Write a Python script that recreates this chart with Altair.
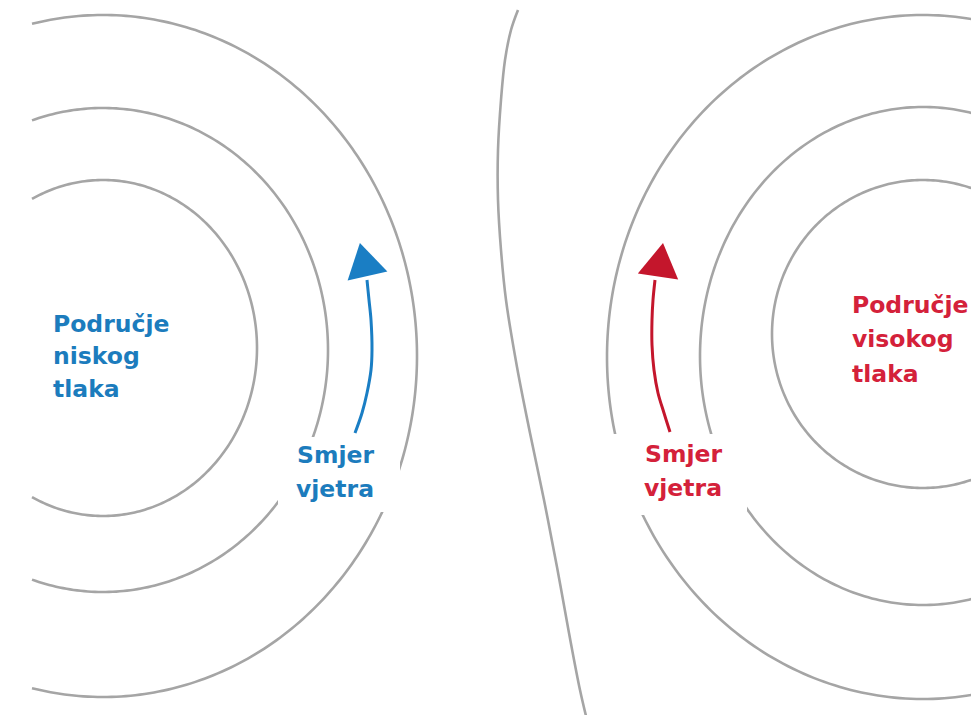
import numpy as np
import pandas as pd
import altair as alt

# ---- values (pixel coordinates of the 979x723 image) ----
# left (low-pressure) isobars: centre and radii of each ellipse arc
LEFT_CX = [103, 103, 103]
LEFT_CY = [348, 350, 356]
LEFT_A = [154, 225, 314]
LEFT_B = [168, 242, 341]
LEFT_EDGE = 32

# right (high-pressure) isobars
RIGHT_CX = [923, 923, 923]
RIGHT_CY = [334, 356, 357]
RIGHT_A = [151, 223, 316]
RIGHT_B = [154, 249, 342]

# dividing curve between the two systems
MID_X = [518, 511, 505, 501, 498, 498, 501, 506, 517, 530, 544, 557, 569, 580, 587]
MID_Y = [10, 30, 60, 100, 150, 200, 250, 300, 367, 433, 500, 567, 633, 690, 720]

# wind-direction arrows (shafts)
BLUE_SHAFT_X = [355, 362, 367, 371, 372, 371, 369, 367]
BLUE_SHAFT_Y = [433, 413, 393, 370, 350, 320, 300, 280]
RED_SHAFT_X = [670, 664, 658, 654, 652, 652, 653, 655]
RED_SHAFT_Y = [432, 413, 393, 370, 345, 320, 300, 280]

# arrow heads: base-centre position and rotation (degrees, clockwise)
HEAD_X = [367.5, 658]
HEAD_Y = [276, 276.5]
HEAD_ANGLE = [347, 8.5]
HEAD_COLOR = ["#1a7ec4", "#c4162c"]

# white label backgrounds (masking isobars)
BOX_X = [278, 612]
BOX_X2 = [400, 747]
BOX_Y = [437, 434]
BOX_Y2 = [512, 515]

# labels
LABEL_TEXT = ["Područje", "niskog", "tlaka", "Smjer", "vjetra",
              "Područje", "visokog", "tlaka", "Smjer", "vjetra"]
LABEL_X = [53, 53, 53, 297, 296, 852, 852, 852, 645, 644]
LABEL_Y = [332, 364, 397, 463, 497, 313, 347, 382, 462, 496]
LABEL_COLOR = ["#1c7cbd"] * 5 + ["#d4213a"] * 5

GRAY = "#a5a5a5"
X0, X1, Y0, Y1 = 8, 971, 8, 715

# ---- build tables ----
arc_rows = []
for k in range(3):
    cx, cy, a, b = LEFT_CX[k], LEFT_CY[k], LEFT_A[k], LEFT_B[k]
    t0 = np.degrees(np.arccos((LEFT_EDGE - cx) / a))
    for i, t in enumerate(np.linspace(t0, -t0, 240)):
        r = np.radians(t)
        arc_rows.append({"arc": f"L{k}", "i": i, "x": cx + a * np.cos(r), "y": cy - b * np.sin(r)})
for k in range(3):
    cx, cy, a, b = RIGHT_CX[k], RIGHT_CY[k], RIGHT_A[k], RIGHT_B[k]
    for i, t in enumerate(np.linspace(40, 320, 280)):
        r = np.radians(t)
        arc_rows.append({"arc": f"R{k}", "i": i, "x": cx + a * np.cos(r), "y": cy - b * np.sin(r)})
arcs = pd.DataFrame(arc_rows)

mid = pd.DataFrame({"x": MID_X, "y": MID_Y, "i": range(len(MID_X))})

shafts = pd.concat([
    pd.DataFrame({"x": BLUE_SHAFT_X, "y": BLUE_SHAFT_Y, "i": range(len(BLUE_SHAFT_X)),
                  "s": "blue", "c": "#1a7ec4"}),
    pd.DataFrame({"x": RED_SHAFT_X, "y": RED_SHAFT_Y, "i": range(len(RED_SHAFT_X)),
                  "s": "red", "c": "#c4162c"}),
])

heads = pd.DataFrame({"x": HEAD_X, "y": HEAD_Y, "ang": HEAD_ANGLE, "c": HEAD_COLOR})
boxes = pd.DataFrame({"x": BOX_X, "x2": BOX_X2, "y": BOX_Y, "y2": BOX_Y2})
labels = pd.DataFrame({"t": LABEL_TEXT, "x": LABEL_X, "y": LABEL_Y, "c": LABEL_COLOR})

xs = alt.Scale(domain=[X0, X1], nice=False, zero=False)
ys = alt.Scale(domain=[Y0, Y1], nice=False, zero=False, reverse=True)
X = lambda f="x": alt.X(f"{f}:Q", scale=xs, axis=None)
Y = lambda f="y": alt.Y(f"{f}:Q", scale=ys, axis=None)

arc_layer = alt.Chart(arcs).mark_line(color=GRAY, strokeWidth=2.6, clip=True).encode(
    x=X(), y=Y(), detail="arc:N", order="i:Q")

mid_layer = alt.Chart(mid).mark_line(color=GRAY, strokeWidth=2.6, clip=True,
                                     interpolate="catmull-rom").encode(
    x=X(), y=Y(), order="i:Q")

box_layer = alt.Chart(boxes).mark_rect(color="white", opacity=1).encode(
    x=X(), x2="x2:Q", y=Y(), y2="y2:Q")

shaft_layer = alt.Chart(shafts).mark_line(strokeWidth=3, interpolate="catmull-rom").encode(
    x=X(), y=Y(), detail="s:N", order="i:Q", color=alt.Color("c:N", scale=None))

head_layer = alt.Chart(heads).mark_point(
    shape="M0,-1.66L1,0L-1,0Z", size=1665, filled=True, opacity=1, strokeWidth=0).encode(
    x=X(), y=Y(), angle=alt.Angle("ang:Q", scale=None), color=alt.Color("c:N", scale=None))

text_layer = alt.Chart(labels).mark_text(
    align="left", baseline="alphabetic", font="DejaVu Sans", fontWeight="bold", fontSize=23.5).encode(
    x=X(), y=Y(), text="t:N", color=alt.Color("c:N", scale=None))

chart = alt.layer(arc_layer, mid_layer, box_layer, shaft_layer, head_layer, text_layer).properties(
    width=X1 - X0, height=Y1 - Y0, padding=0, background="white",
    autosize=alt.AutoSizeParams(type="none"),
).configure_view(stroke=None)

chart.save("out.html", embed_options={"renderer": "svg", "actions": False})
